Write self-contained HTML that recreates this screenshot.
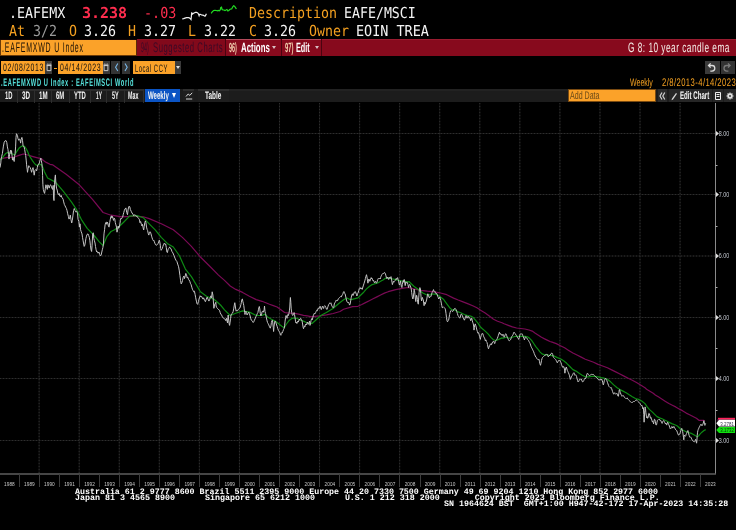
<!DOCTYPE html>
<html><head><meta charset="utf-8"><title>EAFEMXWD U Index - Bloomberg chart</title>
<style>
*{margin:0;padding:0;box-sizing:border-box}
html,body{width:736px;height:530px;overflow:hidden;background:#000}
body{position:relative;font-family:"Liberation Sans",sans-serif}
.t{position:absolute;white-space:pre;transform-origin:0 0;text-rendering:geometricPrecision}
.b{position:absolute}
.chart{position:absolute;left:0;top:0}
</style></head><body>
<div class="b" style="left:0;top:39px;width:736px;height:17.4px;background:#870a1d;border-top:1px solid #9a1c30"></div>
<div class="b" style="left:0;top:39px;width:136.6px;height:1px;background:#120404"></div>
<div class="b" style="left:0;top:40px;width:136.6px;height:16px;background:#fba229;border:1px solid #6a3a08;border-top:0;border-right-color:#5a2a06"></div>
<div class="b" style="left:137px;top:39px;width:88.3px;height:17.4px;background:#82091b;border-top:1px solid #8e1426"></div>
<div class="b" style="left:225.3px;top:39px;width:1px;height:17.4px;background:#4a0410"></div>
<div class="b" style="left:226.3px;top:39px;width:54.2px;height:17.4px;background:#870a1d;border-top:1px solid #b54a5a"></div>
<div class="b" style="left:280.5px;top:39px;width:1px;height:17.4px;background:#4a0410"></div>
<div class="b" style="left:281.5px;top:39px;width:39.5px;height:17.4px;background:#870a1d;border-top:1px solid #b54a5a"></div>
<div class="b" style="left:321px;top:39px;width:1px;height:17.4px;background:#4a0410"></div>
<div class="b" style="left:272px;top:46px;width:0;height:0;border-left:2px solid transparent;border-right:2px solid transparent;border-top:3px solid #d8c0c4"></div>
<div class="b" style="left:315px;top:46px;width:0;height:0;border-left:2px solid transparent;border-right:2px solid transparent;border-top:3px solid #d8c0c4"></div>

<!-- date row -->
<div class="b" style="left:1px;top:60.8px;width:44.2px;height:13.1px;background:#fba229"></div>
<div class="b" style="left:45.2px;top:60.8px;width:7px;height:13.1px;background:#3a3a3a"></div>
<svg class="b" style="left:45.5px;top:62px" width="7" height="10"><path d="M1.1 3.6 V8.6 H4.9 V3.6 Z" fill="#2a2a2a" stroke="#c8c8c8" stroke-width="1"/><path d="M0.6 3.2 H5.4" stroke="#c8c8c8" stroke-width="1.6"/><path d="M1.8 1.2 V3 M4.2 1.2 V3" stroke="#9a9a9a" stroke-width="0.9"/></svg>
<div class="b" style="left:54px;top:68px;width:3px;height:1.2px;background:#f4a020"></div>
<div class="b" style="left:57.7px;top:60.8px;width:45.1px;height:13.1px;background:#fba229"></div>
<div class="b" style="left:102.8px;top:60.8px;width:7.1px;height:13.1px;background:#3a3a3a"></div>
<svg class="b" style="left:103.1px;top:62px" width="7" height="10"><path d="M1.1 3.6 V8.6 H4.9 V3.6 Z" fill="#2a2a2a" stroke="#c8c8c8" stroke-width="1"/><path d="M0.6 3.2 H5.4" stroke="#c8c8c8" stroke-width="1.6"/><path d="M1.8 1.2 V3 M4.2 1.2 V3" stroke="#9a9a9a" stroke-width="0.9"/></svg>
<div class="b" style="left:111.3px;top:60.8px;width:8.9px;height:13.1px;background:#333"></div>
<div class="b" style="left:121.8px;top:60.8px;width:8.4px;height:13.1px;background:#333"></div>
<div class="b" style="left:133.3px;top:60.8px;width:41.6px;height:13.1px;background:#fba229"></div>
<div class="b" style="left:174.9px;top:60.8px;width:6.5px;height:13.1px;background:#3a3a3a"></div>
<div class="b" style="left:176.3px;top:66px;width:0;height:0;border-left:2px solid transparent;border-right:2px solid transparent;border-top:3px solid #e0e0e0"></div>
<svg class="b" style="left:111px;top:60px" width="20" height="15"><path d="M6.8 3.5 L4.6 7.3 L6.8 11" fill="none" stroke="#7ab8e8" stroke-width="1.1"/><path d="M14 3.5 L16.2 7.3 L14 11" fill="none" stroke="#7ab8e8" stroke-width="1.1"/></svg>
<div class="b" style="left:705.3px;top:61px;width:14.7px;height:13px;background:#3a3a3a"></div>
<div class="b" style="left:720.9px;top:61px;width:13.7px;height:13px;background:#333"></div>
<svg class="b" style="left:705px;top:61px" width="31" height="13"><path d="M5.6 2.4 L3.5 4.5 L5.6 6.6 M3.5 4.5 H7 A2.8 2.8 0 0 1 7 10.1 H5.3" fill="none" stroke="#dcdcdc" stroke-width="1.3"/><path d="M23 2.4 L25.1 4.5 L23 6.6 M25.1 4.5 H21.8 A2.8 2.8 0 0 0 21.8 10.1 H23.4" fill="none" stroke="#7a7a7a" stroke-width="1.3"/></svg>

<!-- tab bar -->
<div class="b" style="left:0;top:88.8px;width:736px;height:13.7px;background:#1c1c1c"></div>
<div class="b" style="left:0;top:88.8px;width:144px;height:2.6px;background:#2c2c2c"></div>
<div class="b" style="left:229px;top:88.8px;width:339px;height:2.6px;background:#222"></div>
<div class="b" style="left:17px;top:89px;width:1px;height:13.5px;background:#2e2e2e"></div><div class="b" style="left:34px;top:89px;width:1px;height:13.5px;background:#2e2e2e"></div><div class="b" style="left:51px;top:89px;width:1px;height:13.5px;background:#2e2e2e"></div><div class="b" style="left:69px;top:89px;width:1px;height:13.5px;background:#2e2e2e"></div><div class="b" style="left:90px;top:89px;width:1px;height:13.5px;background:#2e2e2e"></div><div class="b" style="left:106px;top:89px;width:1px;height:13.5px;background:#2e2e2e"></div><div class="b" style="left:124px;top:89px;width:1px;height:13.5px;background:#2e2e2e"></div><div class="b" style="left:143px;top:89px;width:1px;height:13.5px;background:#2e2e2e"></div>
<div class="b" style="left:144.8px;top:88.8px;width:35.2px;height:13.7px;background:#0b54c4"></div>
<div class="b" style="left:172.2px;top:92.8px;width:0;height:0;border-left:2.6px solid transparent;border-right:2.6px solid transparent;border-top:5.4px solid #fff"></div>
<div class="b" style="left:183px;top:88.8px;width:11px;height:13.7px;background:#1e1e1e;border-top:2.6px solid #2e2e2e"></div>
<svg class="b" style="left:183px;top:89px" width="13" height="14"><path d="M3 7.5 L5.2 5 L6.8 6.4 L9.2 3.8" fill="none" stroke="#ddd" stroke-width="1"/><path d="M3 10 H9.2" stroke="#bbb" stroke-width="1.2"/></svg>
<div class="b" style="left:197.7px;top:88.8px;width:31.3px;height:13.7px;background:#1e1e1e;border-top:2.6px solid #2e2e2e"></div>
<div class="b" style="left:568px;top:88.8px;width:88.1px;height:12.9px;background:#fba229;border:1px solid #7a4a10"></div>
<div class="b" style="left:657.8px;top:88.8px;width:9.2px;height:13.7px;background:#2a2a2a"></div>
<div class="b" style="left:669px;top:88.8px;width:43px;height:13.7px;background:#262626"></div>
<div class="b" style="left:713px;top:88.8px;width:10px;height:13.7px;background:#262626"></div>
<div class="b" style="left:724px;top:88.8px;width:12px;height:13.7px;background:#262626"></div>
<svg class="b" style="left:657px;top:89px" width="79" height="14"><path d="M5 3.5 L3 7 L5 10.5 M7.8 3.5 L5.8 7 L7.8 10.5" fill="none" stroke="#d0d0d0" stroke-width="1.2"/><path d="M14.5 11.2 L15 9.6 L19 4 L20 4.8 L16 10.4 Z" fill="#d8d8d8"/><path d="M58.5 3.5 H63.5 V10.5 H58.5Z M59.5 5.5 H62.5 M59.5 7.5 H62.5" fill="none" stroke="#eee" stroke-width="1"/><g transform="translate(73 7)"><circle r="2.4" fill="#e0e0e0"/><rect x="-0.7" y="-3.4" width="1.4" height="1.6" fill="#e0e0e0" transform="rotate(0)"/><rect x="-0.7" y="-3.4" width="1.4" height="1.6" fill="#e0e0e0" transform="rotate(45)"/><rect x="-0.7" y="-3.4" width="1.4" height="1.6" fill="#e0e0e0" transform="rotate(90)"/><rect x="-0.7" y="-3.4" width="1.4" height="1.6" fill="#e0e0e0" transform="rotate(135)"/><rect x="-0.7" y="-3.4" width="1.4" height="1.6" fill="#e0e0e0" transform="rotate(180)"/><rect x="-0.7" y="-3.4" width="1.4" height="1.6" fill="#e0e0e0" transform="rotate(225)"/><rect x="-0.7" y="-3.4" width="1.4" height="1.6" fill="#e0e0e0" transform="rotate(270)"/><rect x="-0.7" y="-3.4" width="1.4" height="1.6" fill="#e0e0e0" transform="rotate(315)"/><circle r="0.9" fill="#262626"/></g></svg>
<span class="t" style="left:8.83px;top:6.00px;font:15px/15px 'DejaVu Sans Mono', monospace;color:#f4f4f4;transform:scale(0.8889,1.0000);">.EAFEMX</span>
<span class="t" style="left:81.90px;top:6.00px;font:15px/15px 'DejaVu Sans Mono', monospace;font-weight:bold;color:#ff2d4e;">3.238</span>
<span class="t" style="left:144.21px;top:6.00px;font:15px/15px 'DejaVu Sans Mono', monospace;color:#ff2d4e;transform:scale(0.8945,1.0000);">-.03</span>
<span class="t" style="left:248.61px;top:6.00px;font:15px/15px 'DejaVu Sans Mono', monospace;color:#f4a020;transform:scale(0.8860,1.0000);">Description</span>
<span class="t" style="left:344.12px;top:6.00px;font:15px/15px 'DejaVu Sans Mono', monospace;color:#f4f4f4;transform:scale(0.8833,1.0000);">EAFE/MSCI</span>
<span class="t" style="left:9.00px;top:24.00px;font:15px/15px 'DejaVu Sans Mono', monospace;color:#f4a020;transform:scale(0.8860,1.0000);">At</span>
<span class="t" style="left:33.11px;top:24.00px;font:15px/15px 'DejaVu Sans Mono', monospace;color:#9a9a9a;transform:scale(0.8860,1.0000);">3/2</span>
<span class="t" style="left:69.00px;top:24.00px;font:15px/15px 'DejaVu Sans Mono', monospace;color:#f4a020;transform:scale(0.8860,1.0000);">O</span>
<span class="t" style="left:84.11px;top:24.00px;font:15px/15px 'DejaVu Sans Mono', monospace;color:#f4f4f4;transform:scale(0.8860,1.0000);">3.26</span>
<span class="t" style="left:127.86px;top:24.00px;font:15px/15px 'DejaVu Sans Mono', monospace;color:#f4a020;transform:scale(0.8860,1.0000);">H</span>
<span class="t" style="left:144.11px;top:24.00px;font:15px/15px 'DejaVu Sans Mono', monospace;color:#f4f4f4;transform:scale(0.8860,1.0000);">3.27</span>
<span class="t" style="left:187.61px;top:24.00px;font:15px/15px 'DejaVu Sans Mono', monospace;color:#f4a020;transform:scale(0.8860,1.0000);">L</span>
<span class="t" style="left:204.11px;top:24.00px;font:15px/15px 'DejaVu Sans Mono', monospace;color:#f4f4f4;transform:scale(0.8860,1.0000);">3.22</span>
<span class="t" style="left:248.61px;top:24.00px;font:15px/15px 'DejaVu Sans Mono', monospace;color:#f4a020;transform:scale(0.8860,1.0000);">C</span>
<span class="t" style="left:264.11px;top:24.00px;font:15px/15px 'DejaVu Sans Mono', monospace;color:#f4f4f4;transform:scale(0.8860,1.0000);">3.26</span>
<span class="t" style="left:308.50px;top:24.00px;font:15px/15px 'DejaVu Sans Mono', monospace;color:#f4a020;transform:scale(0.8860,1.0000);">Owner</span>
<span class="t" style="left:355.60px;top:24.00px;font:15px/15px 'DejaVu Sans Mono', monospace;color:#f4f4f4;transform:scale(0.8972,1.0000);">EOIN TREA</span>
<span class="t" style="left:2.00px;top:40.25px;font:14px/14px 'Liberation Sans', sans-serif;letter-spacing:1.6px;color:#1a1005;transform:scale(0.4984,1.0000);">.EAFEMXWD U Index</span>
<span class="t" style="left:140.90px;top:39.80px;font:14px/14px 'Liberation Sans', sans-serif;color:#3a0a26;transform:scale(0.3832,1.0000);">94)</span>
<span class="t" style="left:152.70px;top:39.80px;font:14px/14px 'Liberation Sans', sans-serif;letter-spacing:1.0px;color:#3a0a26;transform:scale(0.5485,1.0000);">Suggested Charts</span>
<span class="t" style="left:229.00px;top:40.70px;font:13.3px/13.3px 'Liberation Sans', sans-serif;font-weight:bold;color:#f2cfae;transform:scale(0.4098,1.0000);">96)</span>
<span class="t" style="left:240.80px;top:40.70px;font:13.3px/13.3px 'Liberation Sans', sans-serif;font-weight:bold;color:#ffffff;transform:scale(0.5913,1.0000);">Actions</span>
<span class="t" style="left:284.50px;top:40.70px;font:13.3px/13.3px 'Liberation Sans', sans-serif;font-weight:bold;color:#f2cfae;transform:scale(0.4470,1.0000);">97)</span>
<span class="t" style="left:295.80px;top:40.70px;font:13.3px/13.3px 'Liberation Sans', sans-serif;font-weight:bold;color:#ffffff;transform:scale(0.5489,1.0000);">Edit</span>
<span class="t" style="left:627.70px;top:41.00px;font:13.5px/13.5px 'Liberation Sans', sans-serif;letter-spacing:0.8px;color:#f4ece6;transform:scale(0.6129,1.0000);">G 8: 10 year candle ema</span>
<span class="t" style="left:2.85px;top:63.40px;font:10.75px/10.75px 'Liberation Sans', sans-serif;letter-spacing:1.0px;color:#111;transform:scale(0.6423,1.0000);">02/08/2013</span>
<span class="t" style="left:59.50px;top:63.40px;font:10.75px/10.75px 'Liberation Sans', sans-serif;letter-spacing:1.0px;color:#111;transform:scale(0.6447,1.0000);">04/14/2023</span>
<span class="t" style="left:134.90px;top:63.50px;font:10.75px/10.75px 'Liberation Sans', sans-serif;letter-spacing:1.0px;color:#111;transform:scale(0.5438,1.0000);">Local CCY</span>
<span class="t" style="left:1.00px;top:77.80px;font:11px/11px 'Liberation Sans', sans-serif;font-weight:bold;letter-spacing:1.2px;color:#55e0da;transform:scale(0.5209,1.0000);">.EAFEMXWD U Index : EAFE/MSCI World</span>
<span class="t" style="left:630.20px;top:78.30px;font:11px/11px 'Liberation Sans', sans-serif;color:#f4a020;transform:scale(0.6380,1.0000);">Weekly</span>
<span class="t" style="left:662.20px;top:78.30px;font:11px/11px 'Liberation Sans', sans-serif;letter-spacing:0.6px;color:#f4a020;transform:scale(0.6976,1.0000);">2/8/2013-4/14/2023</span>
<span class="t" style="left:5.00px;top:91.10px;font:11px/11px 'Liberation Sans', sans-serif;font-weight:bold;color:#f4f4f4;transform:scale(0.5312,1.0000);">1D</span>
<span class="t" style="left:21.90px;top:91.10px;font:11px/11px 'Liberation Sans', sans-serif;font-weight:bold;color:#f4f4f4;transform:scale(0.5737,1.0000);">3D</span>
<span class="t" style="left:38.75px;top:91.10px;font:11px/11px 'Liberation Sans', sans-serif;font-weight:bold;color:#f4f4f4;transform:scale(0.5623,1.0000);">1M</span>
<span class="t" style="left:56.25px;top:91.10px;font:11px/11px 'Liberation Sans', sans-serif;font-weight:bold;color:#f4f4f4;transform:scale(0.5391,1.0000);">6M</span>
<span class="t" style="left:73.75px;top:91.10px;font:11px/11px 'Liberation Sans', sans-serif;font-weight:bold;color:#f4f4f4;transform:scale(0.5373,1.0000);">YTD</span>
<span class="t" style="left:95.60px;top:91.10px;font:11px/11px 'Liberation Sans', sans-serif;font-weight:bold;color:#f4f4f4;transform:scale(0.4321,1.0000);">1Y</span>
<span class="t" style="left:111.50px;top:91.10px;font:11px/11px 'Liberation Sans', sans-serif;font-weight:bold;color:#f4f4f4;transform:scale(0.4958,1.0000);">5Y</span>
<span class="t" style="left:128.30px;top:91.10px;font:11px/11px 'Liberation Sans', sans-serif;font-weight:bold;color:#f4f4f4;transform:scale(0.4847,1.0000);">Max</span>
<span class="t" style="left:147.80px;top:91.10px;font:11px/11px 'Liberation Sans', sans-serif;font-weight:bold;color:#f4f4f4;transform:scale(0.5519,1.0000);">Weekly</span>
<span class="t" style="left:205.00px;top:91.10px;font:11px/11px 'Liberation Sans', sans-serif;font-weight:bold;color:#f4f4f4;transform:scale(0.5864,1.0000);">Table</span>
<span class="t" style="left:570.20px;top:91.10px;font:11px/11px 'Liberation Sans', sans-serif;color:#6a4a18;transform:scale(0.6439,1.0000);">Add Data</span>
<span class="t" style="left:679.60px;top:91.10px;font:11px/11px 'Liberation Sans', sans-serif;font-weight:bold;color:#f4f4f4;transform:scale(0.5558,1.0000);">Edit Chart</span>
<span class="t" style="left:75.00px;top:488.00px;font:8.33px/8.33px 'Liberation Mono', monospace;font-weight:bold;color:#ffffff;transform:scale(0.9970,1.0000);">Australia 61 2 9777 8600 Brazil 5511 2395 9000 Europe 44 20 7330 7500 Germany 49 69 9204 1210 Hong Kong 852 2977 6000</span>
<span class="t" style="left:75.00px;top:493.60px;font:8.33px/8.33px 'Liberation Mono', monospace;font-weight:bold;color:#ffffff;">Japan 81 3 4565 8900      Singapore 65 6212 1000      U.S. 1 212 318 2000       Copyright 2023 Bloomberg Finance L.P.</span>
<span class="t" style="left:444.10px;top:499.50px;font:8.33px/8.33px 'Liberation Mono', monospace;font-weight:bold;color:#ffffff;transform:scale(0.9976,1.0000);">SN 1964624 BST  GMT+1:00 H947-42-172 17-Apr-2023 14:35:28</span>
<svg class="chart" width="736" height="530" viewBox="0 0 736 530">
<g stroke="#161616" stroke-width="1"><line x1="39.13" y1="103" x2="39.13" y2="473.5"/><line x1="79.19" y1="103" x2="79.19" y2="473.5"/><line x1="119.25" y1="103" x2="119.25" y2="473.5"/><line x1="159.31" y1="103" x2="159.31" y2="473.5"/><line x1="199.37" y1="103" x2="199.37" y2="473.5"/><line x1="239.43" y1="103" x2="239.43" y2="473.5"/><line x1="279.49" y1="103" x2="279.49" y2="473.5"/><line x1="319.55" y1="103" x2="319.55" y2="473.5"/><line x1="359.61" y1="103" x2="359.61" y2="473.5"/><line x1="399.67" y1="103" x2="399.67" y2="473.5"/><line x1="439.73" y1="103" x2="439.73" y2="473.5"/><line x1="479.79" y1="103" x2="479.79" y2="473.5"/><line x1="519.85" y1="103" x2="519.85" y2="473.5"/><line x1="559.91" y1="103" x2="559.91" y2="473.5"/><line x1="599.97" y1="103" x2="599.97" y2="473.5"/><line x1="640.03" y1="103" x2="640.03" y2="473.5"/><line x1="680.09" y1="103" x2="680.09" y2="473.5"/><line x1="0" y1="440.5" x2="715.0" y2="440.5"/><line x1="0" y1="378.5" x2="715.0" y2="378.5"/><line x1="0" y1="317.5" x2="715.0" y2="317.5"/><line x1="0" y1="256.0" x2="715.0" y2="256.0"/><line x1="0" y1="194.5" x2="715.0" y2="194.5"/><line x1="0" y1="133.5" x2="715.0" y2="133.5"/></g>
<g stroke="#2e2e2e" stroke-width="1" stroke-dasharray="1 2"><line x1="39.13" y1="103" x2="39.13" y2="473.5"/><line x1="79.19" y1="103" x2="79.19" y2="473.5"/><line x1="119.25" y1="103" x2="119.25" y2="473.5"/><line x1="159.31" y1="103" x2="159.31" y2="473.5"/><line x1="199.37" y1="103" x2="199.37" y2="473.5"/><line x1="239.43" y1="103" x2="239.43" y2="473.5"/><line x1="279.49" y1="103" x2="279.49" y2="473.5"/><line x1="319.55" y1="103" x2="319.55" y2="473.5"/><line x1="359.61" y1="103" x2="359.61" y2="473.5"/><line x1="399.67" y1="103" x2="399.67" y2="473.5"/><line x1="439.73" y1="103" x2="439.73" y2="473.5"/><line x1="479.79" y1="103" x2="479.79" y2="473.5"/><line x1="519.85" y1="103" x2="519.85" y2="473.5"/><line x1="559.91" y1="103" x2="559.91" y2="473.5"/><line x1="599.97" y1="103" x2="599.97" y2="473.5"/><line x1="640.03" y1="103" x2="640.03" y2="473.5"/><line x1="680.09" y1="103" x2="680.09" y2="473.5"/><line x1="0" y1="440.5" x2="715.0" y2="440.5"/><line x1="0" y1="378.5" x2="715.0" y2="378.5"/><line x1="0" y1="317.5" x2="715.0" y2="317.5"/><line x1="0" y1="256.0" x2="715.0" y2="256.0"/><line x1="0" y1="194.5" x2="715.0" y2="194.5"/><line x1="0" y1="133.5" x2="715.0" y2="133.5"/></g>
<polyline fill="none" stroke="#7a0a55" stroke-width="1.2" stroke-linejoin="round" points="0.0,159.1 3.8,158.2 7.5,157.4 11.3,157.4 15.1,156.8 18.9,155.4 22.6,154.2 25.5,154.2 28.3,155.2 32.1,156.3 35.8,157.4 38.7,158.2 41.5,158.7 43.4,160.5 46.2,162.4 50.0,164.3 52.9,164.9 66.1,174.2 79.3,184.8 92.5,199.3 103.1,212.5 111.0,215.2 122.1,216.8 134.1,216.2 143.2,216.8 149.2,218.6 161.3,223.8 173.3,229.8 182.4,237.4 191.4,246.4 200.4,257.0 209.5,266.0 218.5,275.1 224.5,280.4 230.2,286.0 235.8,289.4 242.6,292.4 249.4,296.2 256.2,299.6 262.0,301.3 265.8,302.7 269.5,304.2 273.3,305.6 277.1,307.0 280.9,309.8 284.6,312.5 288.4,313.1 292.2,313.1 296.0,313.6 299.7,314.3 303.5,315.3 307.3,315.9 312.0,316.9 312.8,316.6 319.6,315.9 326.4,314.8 333.2,313.5 340.0,311.5 343.6,309.3 352.6,306.6 358.0,306.3 361.8,304.5 365.5,302.6 369.3,300.7 373.1,298.8 376.9,296.9 380.6,295.0 384.4,293.1 388.2,291.7 392.0,290.6 395.7,289.6 399.5,288.9 403.3,288.2 408.0,287.5 413.8,288.9 420.6,290.3 427.4,291.2 434.2,291.9 440.5,293.0 446.8,294.7 453.6,298.1 458.2,300.0 462.4,301.6 467.6,303.6 472.7,305.7 476.9,307.8 481.0,310.4 485.2,313.0 489.3,316.1 493.5,319.2 497.6,321.3 502.0,322.8 504.1,323.8 508.3,325.4 512.4,326.9 516.6,328.0 520.7,328.5 524.9,329.0 529.0,330.0 532.2,331.1 535.3,333.2 538.4,335.2 541.5,337.3 544.6,338.9 547.7,340.4 550.0,341.5 552.1,342.1 556.3,343.6 560.4,345.7 564.6,347.8 568.7,350.4 572.9,353.0 577.0,355.0 581.2,357.1 585.3,359.2 589.5,360.7 593.6,362.3 598.0,364.4 599.1,364.7 603.3,366.2 607.4,367.8 611.6,369.9 615.7,371.9 619.9,374.0 624.0,376.1 628.2,378.2 632.3,380.2 636.5,382.6 640.6,385.1 645.0,387.8 646.6,389.2 653.2,393.2 655.3,395.0 658.7,397.1 662.1,399.2 665.5,401.4 668.9,403.5 672.3,405.2 675.7,406.9 680.0,409.4 682.8,410.9 686.2,413.1 689.6,414.8 693.0,416.5 696.4,418.2 698.9,420.3 701.5,420.4 703.6,420.3 704.9,420.7"/>
<polyline fill="none" stroke="#0e8a14" stroke-width="1.2" stroke-linejoin="round" points="0.0,160.1 1.9,158.7 3.8,155.8 5.7,153.5 7.5,152.5 9.4,153.0 11.3,153.5 13.2,154.2 14.6,154.9 15.6,153.5 17.0,151.1 18.9,148.3 20.8,146.7 22.6,145.9 24.5,146.4 25.9,148.3 27.4,151.1 28.8,154.4 30.2,157.2 32.1,160.1 34.0,162.9 35.8,164.8 37.7,165.3 39.6,164.3 41.5,164.8 42.9,167.6 44.3,171.4 46.2,175.2 47.6,178.0 55.5,182.1 63.4,191.4 71.4,201.9 76.7,209.9 81.9,220.4 87.2,228.4 93.8,235.0 99.1,241.6 103.1,245.6 107.0,236.3 111.0,231.5 114.5,229.8 119.0,226.8 123.6,222.3 129.6,216.2 137.1,215.6 143.2,217.7 149.2,223.8 155.2,229.8 161.3,237.4 167.3,243.4 173.3,247.0 179.3,255.5 185.4,269.1 191.4,276.6 200.4,291.7 206.5,296.2 214.0,299.2 220.5,305.0 224.5,309.8 230.2,315.5 235.8,313.2 242.6,310.9 249.4,312.1 256.2,315.5 262.0,315.5 264.8,314.1 267.7,316.9 271.4,319.2 275.2,321.1 279.0,324.0 281.8,326.3 284.2,327.7 286.5,324.0 289.4,320.2 292.2,318.3 294.5,317.8 297.8,318.8 300.7,320.2 303.5,321.1 306.3,322.5 309.2,323.5 312.0,323.5 315.1,320.7 320.8,315.5 326.4,312.5 333.0,308.5 339.1,303.2 343.6,299.8 347.0,298.0 350.4,299.8 354.9,298.7 358.0,297.8 360.8,295.0 363.7,292.2 366.5,288.9 369.3,286.5 372.2,284.6 375.0,283.7 377.8,282.9 380.6,281.3 383.0,279.9 385.4,278.2 387.2,278.0 390.1,278.5 392.9,279.0 395.7,279.7 398.6,280.4 401.4,280.9 404.2,281.3 408.0,281.8 409.2,281.7 413.8,286.2 418.3,289.6 422.8,293.0 427.4,295.3 431.9,294.2 436.4,294.2 440.5,297.0 443.4,299.2 446.8,303.8 450.2,308.3 452.0,309.9 455.1,309.9 458.2,311.9 461.3,313.0 464.4,314.5 467.6,315.6 470.7,316.1 473.3,317.6 475.9,320.7 478.5,323.9 480.0,326.5 482.1,328.5 485.2,331.1 488.3,334.2 490.9,337.3 493.5,339.9 496.1,340.5 498.7,339.4 502.0,337.9 503.1,338.3 506.2,337.3 509.3,338.3 512.4,337.3 515.6,336.3 518.7,336.3 521.8,336.3 524.9,336.3 527.5,336.8 529.6,338.3 531.6,340.4 533.7,343.5 535.8,346.6 537.9,349.2 539.9,351.8 542.0,353.9 544.6,354.9 547.2,354.9 550.0,355.5 551.1,355.4 554.2,356.1 557.3,357.6 560.4,358.7 563.6,360.7 566.7,363.3 569.8,366.5 572.9,369.6 576.0,371.1 579.1,373.2 582.2,375.3 585.3,376.8 588.5,376.8 591.6,376.3 594.7,376.3 598.0,376.8 601.2,377.6 604.3,378.2 607.4,379.2 610.6,381.8 613.7,384.9 616.8,387.5 619.9,389.6 623.0,391.1 626.1,392.7 629.2,394.8 632.3,396.8 635.5,398.6 638.6,399.4 641.7,401.0 645.0,403.6 647.2,406.9 649.3,409.4 651.9,411.6 654.4,414.1 657.0,416.6 659.5,417.9 662.1,418.8 664.6,420.0 667.2,421.3 669.7,422.6 672.3,423.9 674.8,424.7 677.4,426.0 680.0,428.5 681.1,429.2 683.6,430.5 686.2,431.7 688.7,432.6 691.3,433.4 693.8,434.7 696.0,436.0 697.2,436.8 698.5,436.0 700.2,433.9 701.9,432.2 704.0,430.5 705.7,429.6"/>
<polyline fill="none" stroke="#c4c4c4" stroke-width="1" stroke-linejoin="round" points="0.0,167.6 0.8,162.9 1.1,159.1 1.7,156.3 2.4,153.5 3.3,146.9 4.2,142.2 5.2,140.7 6.1,140.7 6.8,142.6 7.4,146.9 8.0,149.7 8.5,154.4 9.0,159.1 9.4,156.3 9.9,152.5 10.6,150.2 11.1,153.5 11.5,150.6 12.1,156.3 12.5,160.1 13.0,157.2 13.7,160.1 14.2,161.5 14.6,156.3 15.1,153.5 15.6,146.9 16.0,137.4 16.5,133.7 17.0,134.6 17.5,135.5 17.9,138.4 18.7,140.3 19.3,138.8 20.0,139.8 20.6,143.1 21.2,139.3 21.9,137.4 22.5,140.3 23.1,145.9 24.1,146.9 24.7,149.7 25.3,153.5 25.7,155.4 26.2,160.1 26.6,164.8 27.2,169.5 27.5,172.3 28.1,168.6 28.8,165.7 29.4,166.7 30.2,167.6 30.9,169.5 31.6,172.3 32.3,169.5 33.0,167.6 33.5,170.5 34.2,175.2 34.9,170.5 35.8,169.5 36.6,170.9 37.3,167.6 37.9,164.8 38.7,164.3 39.4,162.9 40.1,160.1 40.8,158.2 41.3,160.5 41.9,163.8 42.3,168.6 42.6,175.6 42.9,184.8 43.3,189.4 44.0,192.0 44.6,193.4 45.3,188.7 45.9,184.8 46.6,186.8 47.3,189.4 47.9,184.8 48.6,186.1 49.2,188.1 49.9,185.4 50.6,184.8 51.2,186.1 51.9,188.1 52.5,189.4 53.2,185.4 53.6,198.0 54.0,200.6 54.5,184.8 54.9,178.2 55.4,174.9 55.8,182.2 56.5,188.1 57.2,190.1 57.8,193.4 58.5,194.7 59.1,193.4 59.8,196.0 60.4,196.7 61.1,195.3 61.8,197.3 62.4,198.0 63.1,199.3 63.7,201.9 64.4,204.6 65.1,205.9 65.7,207.2 66.4,208.5 67.0,210.5 67.7,213.8 68.4,216.5 69.0,219.1 69.7,217.8 70.3,215.1 71.0,219.7 71.7,223.0 72.3,220.4 73.0,215.1 73.6,210.5 74.3,208.5 75.0,210.5 75.6,211.8 76.7,211.2 77.6,213.8 78.0,219.2 78.9,221.5 79.4,227.1 80.0,223.8 80.5,229.4 81.2,231.7 82.0,233.9 82.5,237.3 83.1,240.7 83.7,244.1 84.2,246.4 84.8,245.2 85.4,241.9 85.9,238.5 86.5,236.2 87.0,234.5 88.0,233.9 88.7,235.6 89.3,237.3 89.9,240.7 90.4,245.2 91.0,249.8 91.6,251.5 92.1,245.2 92.7,233.9 93.3,232.8 93.8,238.5 94.4,240.7 95.0,243.0 95.5,246.4 96.1,249.8 96.7,252.0 97.2,251.5 98.1,253.2 98.9,252.0 99.7,254.3 100.4,256.0 101.2,254.9 101.8,252.0 102.3,249.8 102.9,247.5 103.5,243.0 104.0,233.9 104.6,229.4 105.1,224.9 105.7,222.6 106.3,222.1 106.8,224.3 107.4,222.1 108.0,223.8 108.5,226.6 109.1,227.1 109.7,222.6 110.2,219.8 110.8,217.0 111.4,215.8 111.9,218.1 112.5,216.4 113.1,218.7 113.6,220.4 114.2,218.1 114.8,219.2 115.3,222.6 115.9,224.9 116.5,227.1 117.0,232.2 117.6,229.4 118.2,226.0 118.7,228.3 119.3,227.1 119.9,223.8 120.4,220.4 121.0,218.1 121.6,218.7 122.1,217.5 122.7,217.0 123.2,214.7 123.8,212.4 124.4,210.2 125.0,209.0 125.9,207.9 126.7,212.4 127.5,214.7 128.2,209.0 129.0,206.2 129.8,206.8 130.4,209.6 131.2,211.3 132.0,213.0 132.9,214.1 133.8,215.8 134.6,214.7 135.4,215.3 136.3,215.8 137.2,217.0 138.0,217.5 138.8,218.7 139.5,219.8 139.9,222.6 140.6,221.5 141.4,224.3 142.0,226.0 142.5,224.3 143.1,227.7 143.7,230.0 144.2,226.6 144.8,222.6 145.4,220.9 145.9,222.6 146.5,227.1 147.1,229.4 147.6,230.5 148.2,233.4 148.8,235.1 149.3,232.8 149.9,231.7 150.5,232.2 151.0,233.9 151.6,236.2 152.1,237.9 152.7,239.6 153.3,240.7 153.8,240.2 154.4,241.9 155.0,243.6 155.5,244.7 156.4,245.2 157.2,244.7 158.0,243.6 158.7,241.9 159.3,240.2 159.8,241.9 160.3,245.2 160.7,248.6 161.2,250.3 161.8,249.2 162.3,248.6 162.9,246.4 163.5,244.7 164.0,243.6 164.6,243.0 165.2,244.7 165.7,244.1 166.3,247.5 166.9,252.0 167.4,252.6 168.0,249.8 168.6,248.6 169.1,248.1 169.7,246.9 170.0,247.6 171.1,249.0 172.0,251.6 172.9,252.9 174.0,255.6 175.0,258.2 175.9,260.2 176.9,261.5 177.7,264.1 178.6,266.8 179.2,270.1 179.9,275.3 180.6,280.6 181.2,283.9 181.9,282.6 182.5,280.6 183.2,277.3 183.9,276.0 184.5,278.6 185.2,276.0 185.8,273.4 186.5,274.7 187.2,278.0 187.8,277.3 188.5,279.3 189.1,280.0 189.8,281.3 190.4,283.3 191.1,284.6 191.8,287.2 192.4,289.2 193.1,290.5 193.7,291.8 194.4,291.2 195.1,294.5 195.7,297.8 196.4,301.1 197.0,303.7 197.7,304.4 198.4,301.7 199.0,299.1 199.7,297.1 200.3,295.8 201.0,297.1 201.7,296.5 202.3,297.8 203.0,299.1 203.6,297.8 204.6,300.4 205.4,301.7 206.3,299.1 207.2,297.1 208.0,299.1 208.9,301.1 209.6,299.7 210.2,297.8 210.9,295.8 211.6,297.8 212.2,291.8 212.9,295.1 213.5,303.0 213.9,308.3 214.6,304.4 215.0,304.2 215.8,302.3 216.1,306.0 216.7,307.5 217.4,308.4 218.0,308.9 218.8,309.8 219.5,310.3 220.2,312.6 220.8,314.1 221.6,315.0 222.4,316.9 223.0,317.8 223.7,318.3 224.4,318.8 225.2,319.2 225.8,320.7 226.5,318.3 227.1,321.1 227.5,323.0 227.9,317.4 228.2,315.0 228.7,320.2 229.2,324.0 229.6,325.4 230.1,322.1 230.6,318.3 231.0,315.0 231.8,313.6 232.5,313.1 233.1,311.7 233.7,308.9 234.3,305.1 234.8,302.7 235.3,306.0 235.8,309.8 236.2,311.2 236.7,310.3 237.5,310.8 238.1,309.8 238.8,308.9 239.3,308.4 240.0,307.9 240.5,306.0 240.9,304.6 241.4,302.3 241.9,299.4 242.4,299.0 242.8,301.3 243.3,303.2 243.8,305.6 244.2,308.9 244.7,312.6 245.0,314.5 245.4,312.2 245.9,311.2 246.6,312.6 247.1,315.0 247.5,314.1 248.2,313.1 248.8,312.2 249.4,313.6 250.1,315.9 250.7,318.3 251.3,320.2 252.0,320.7 252.5,321.1 253.2,322.5 253.9,321.6 254.4,320.2 255.1,318.8 255.8,316.9 256.5,315.5 257.3,313.6 257.9,312.6 258.4,309.8 258.9,307.5 259.3,306.5 259.8,308.9 260.3,313.6 260.8,315.9 261.2,315.5 261.7,314.1 262.0,311.7 262.8,311.2 263.4,312.2 264.1,309.8 264.5,306.0 265.0,311.7 265.6,313.6 266.2,316.9 266.9,320.2 267.5,322.5 268.1,323.5 268.8,324.9 269.5,326.8 270.3,328.2 271.0,325.8 271.4,322.5 271.9,320.7 272.4,320.2 272.8,323.0 273.3,327.7 273.6,331.5 274.0,326.8 274.5,323.0 275.0,321.1 275.7,322.1 276.3,324.0 277.1,326.3 277.8,328.7 278.5,330.6 279.2,331.5 279.7,332.5 280.4,334.3 280.9,335.3 281.3,333.4 281.8,332.5 282.3,332.9 282.8,331.5 283.5,329.6 284.2,328.2 284.6,325.8 285.1,321.1 285.6,317.4 286.1,315.5 286.5,317.4 287.0,318.3 287.5,316.4 287.9,314.5 288.4,315.5 288.9,313.6 289.4,310.8 289.8,307.0 290.1,301.3 290.4,297.5 290.8,302.3 291.2,308.9 291.7,312.6 292.2,314.5 292.7,315.5 293.1,315.0 293.6,313.6 294.1,312.6 294.5,314.5 295.0,317.4 295.5,321.1 296.0,323.0 296.4,322.1 296.9,323.5 297.4,322.5 297.8,321.1 298.3,322.1 298.8,320.2 299.3,319.2 299.7,320.2 300.2,318.8 300.7,318.3 301.2,319.2 301.6,319.7 302.1,321.1 302.6,324.0 303.0,326.8 303.5,328.7 304.0,327.3 304.5,325.8 304.9,326.8 305.4,325.4 305.9,324.0 306.3,324.9 306.8,323.5 307.3,322.1 307.8,323.0 308.2,324.4 308.7,323.5 309.2,322.1 309.6,321.1 310.0,325.4 310.6,323.2 311.1,320.3 311.7,318.6 312.3,319.8 312.8,317.5 313.4,315.2 314.0,314.1 314.5,313.0 315.1,313.6 315.7,312.4 316.2,311.3 316.8,310.2 317.4,310.7 317.9,309.0 318.5,307.9 319.0,308.5 319.6,306.8 320.2,306.2 320.7,307.9 321.3,309.6 321.9,307.9 322.4,306.2 323.0,307.3 323.6,308.5 324.1,306.2 324.7,305.6 325.3,306.2 325.8,307.3 326.4,309.0 327.0,309.6 327.5,307.9 328.1,306.2 328.7,304.5 329.2,303.9 329.8,302.8 330.4,303.4 330.9,302.8 331.5,305.1 332.1,306.2 332.6,307.3 333.2,307.9 333.8,307.3 334.3,303.9 334.9,302.8 335.5,301.7 336.0,300.5 336.6,301.1 337.1,300.0 337.7,300.5 338.3,298.8 338.8,298.3 339.4,297.7 340.0,297.1 340.5,296.6 341.1,297.1 341.7,296.0 342.2,294.9 342.8,294.3 343.4,292.1 343.9,291.5 344.5,293.2 345.1,293.8 345.6,296.0 346.2,298.8 346.8,301.1 347.3,302.2 347.9,302.8 348.5,302.2 349.0,303.4 349.6,305.1 350.2,303.9 350.7,300.5 351.3,297.1 351.9,294.9 352.4,293.8 353.0,295.5 353.6,293.8 354.1,292.6 354.7,293.2 355.2,291.5 355.8,292.6 356.4,294.3 356.9,296.0 357.5,293.8 358.0,293.1 358.8,290.3 359.4,288.4 360.1,287.5 360.8,288.9 361.6,287.9 362.2,289.4 362.9,287.0 363.5,285.1 364.1,283.2 364.8,280.9 365.4,278.5 366.0,276.2 366.5,274.7 367.0,277.1 367.4,279.9 367.9,283.2 368.4,280.9 368.8,279.0 369.3,279.5 369.8,281.3 370.3,279.9 370.7,278.5 371.2,277.6 371.7,279.0 372.2,278.5 372.6,279.9 373.1,280.9 373.6,280.4 374.0,281.8 374.5,282.8 375.0,281.8 375.5,281.3 375.9,282.3 376.4,283.2 376.9,282.3 377.3,280.9 377.8,279.5 378.3,278.5 378.8,279.0 379.2,278.5 379.7,278.0 380.2,279.0 380.6,277.6 381.1,276.2 381.6,275.2 382.1,274.3 382.5,273.8 383.0,273.3 383.5,273.8 383.9,273.1 384.4,272.4 384.9,272.8 385.4,273.8 385.8,275.2 386.3,277.1 386.8,278.5 387.2,278.0 387.7,277.1 388.2,278.5 388.7,279.5 389.1,277.6 389.6,277.1 390.1,278.5 390.5,277.6 391.0,276.6 391.5,279.0 392.0,282.3 392.4,284.6 392.9,282.8 393.4,281.3 393.8,282.3 394.3,281.3 394.8,280.9 395.3,280.4 395.7,279.5 396.2,278.5 396.7,279.5 397.2,278.0 397.6,277.6 398.1,279.5 398.6,280.9 399.0,283.7 399.5,285.1 400.0,283.2 400.5,280.9 400.9,283.7 401.4,286.5 401.9,287.5 402.3,284.6 402.8,281.8 403.3,280.4 403.8,282.3 404.2,279.5 404.7,281.8 405.2,285.6 405.8,281.9 406.6,282.9 407.3,282.4 407.9,284.4 408.6,287.6 409.1,285.5 409.7,284.4 410.2,285.5 410.7,287.0 411.2,288.6 411.7,292.7 412.3,296.9 412.8,299.0 413.3,297.9 413.8,292.7 414.1,289.1 414.5,290.7 415.0,294.8 415.4,299.0 415.8,301.6 416.2,297.9 416.6,295.3 417.0,296.9 417.4,299.5 417.9,303.1 418.3,304.2 418.7,297.9 419.1,292.7 419.5,289.1 419.9,287.6 420.4,288.6 420.8,293.8 421.2,299.0 421.6,301.0 422.0,297.9 422.4,297.4 422.8,299.0 423.3,300.0 423.7,303.1 424.1,305.7 424.5,303.1 424.9,302.1 425.3,304.2 425.7,302.6 426.3,301.0 426.8,299.0 427.3,295.9 427.8,293.8 428.3,295.3 428.9,296.9 429.4,297.9 429.9,296.9 430.4,295.9 430.9,296.4 431.5,294.8 432.0,292.7 432.5,291.7 433.0,290.7 433.5,289.6 434.0,291.2 434.6,292.2 435.1,291.7 435.6,292.7 436.1,293.8 436.6,293.3 437.2,294.8 437.7,296.4 438.2,297.4 438.7,299.0 439.2,297.9 439.8,296.9 440.3,298.5 440.8,300.5 441.3,303.1 441.8,305.7 442.3,307.8 442.9,307.3 443.4,306.8 443.9,307.3 444.4,307.8 444.9,308.3 445.5,309.9 446.0,313.5 446.5,317.6 447.0,320.8 447.5,321.8 448.0,320.8 448.6,320.2 449.1,317.6 449.6,314.5 450.1,312.5 450.6,310.9 451.2,310.4 451.7,310.9 452.2,311.4 452.8,311.4 453.6,309.9 454.3,308.8 455.1,308.3 455.9,309.3 456.7,311.4 457.4,313.5 458.0,315.6 458.7,316.6 459.3,317.6 459.8,318.2 460.3,317.1 460.8,315.0 461.3,314.0 461.9,314.5 462.4,315.6 462.9,317.1 463.4,318.2 463.9,319.2 464.4,320.2 465.0,318.7 465.5,316.6 466.0,315.6 466.5,317.1 467.0,318.2 467.6,317.1 468.1,316.1 468.6,316.6 469.1,318.2 469.6,317.6 470.2,318.7 470.7,320.7 471.2,319.7 471.7,318.2 472.2,320.2 472.7,322.3 473.3,323.9 473.8,327.0 474.0,330.1 474.3,327.5 474.8,324.9 475.3,323.9 475.9,325.9 476.4,328.0 476.9,330.1 477.4,331.6 477.9,333.2 478.5,332.7 479.0,334.2 479.5,336.3 480.0,337.9 480.3,339.4 480.7,337.3 481.3,335.3 481.8,334.2 482.3,333.2 482.8,333.7 483.3,335.3 483.8,336.8 484.4,337.9 484.9,338.9 485.4,341.0 485.9,339.9 486.4,341.5 487.0,342.5 487.5,344.6 488.0,347.2 488.5,348.8 489.0,347.2 489.6,345.6 490.1,344.6 490.6,345.1 491.1,343.6 491.6,344.6 492.1,343.0 492.7,342.0 493.2,341.5 493.7,341.0 494.2,342.5 494.7,343.6 495.3,341.5 495.8,340.5 496.3,339.9 496.8,339.4 497.3,338.4 497.9,336.8 498.4,335.3 498.9,333.7 499.4,332.2 500.0,334.2 500.8,333.7 501.6,335.2 502.3,335.7 502.9,334.2 503.6,335.2 504.1,337.3 504.7,336.3 505.2,334.7 505.7,333.7 506.2,334.2 506.7,335.7 507.3,337.3 507.8,338.3 508.3,339.4 508.8,340.4 509.3,340.9 509.9,340.4 510.4,339.9 510.9,338.9 511.4,337.3 511.9,336.3 512.4,335.7 513.0,334.7 513.5,333.2 514.0,332.1 514.5,332.6 515.0,333.7 515.6,334.2 516.1,335.2 516.6,335.7 517.1,336.8 517.6,337.8 518.2,338.3 518.7,339.4 519.2,337.8 519.7,335.7 520.2,334.2 520.7,333.7 521.3,334.2 521.8,333.7 522.3,334.2 522.8,335.7 523.3,336.8 523.9,338.3 524.4,339.9 524.9,338.3 525.4,336.8 525.9,337.3 526.5,337.8 527.0,338.3 527.5,339.4 528.0,339.9 528.5,340.4 529.0,341.5 529.6,342.5 530.1,343.5 530.6,345.1 531.1,346.6 531.6,347.7 532.2,348.7 532.7,349.8 533.2,350.8 533.7,351.8 534.2,353.4 534.8,354.9 535.3,356.0 535.8,357.0 536.3,357.5 536.8,358.6 537.3,359.1 537.9,359.6 538.4,359.6 538.9,359.1 539.4,361.2 539.9,363.8 540.5,365.3 541.0,363.2 541.5,360.6 542.0,358.6 542.5,357.5 543.1,357.0 543.6,356.5 544.1,356.0 544.6,355.5 545.1,354.9 545.6,354.9 546.2,354.4 546.7,354.9 547.2,354.4 547.7,355.5 548.0,356.6 549.0,356.1 550.1,355.0 551.1,353.5 551.9,353.0 552.7,354.5 553.2,356.6 553.7,357.6 554.2,358.2 554.7,358.7 555.3,359.2 555.8,359.7 556.3,360.7 556.8,361.8 557.3,362.8 557.9,361.8 558.4,360.7 558.9,360.2 559.4,360.7 559.9,360.2 560.4,361.3 561.0,362.8 561.5,364.4 562.0,365.9 562.5,367.0 563.0,367.5 563.6,366.5 564.1,367.5 564.6,370.1 564.9,373.2 565.3,370.1 565.8,368.0 566.4,367.0 566.9,369.0 567.4,370.6 567.9,371.6 568.4,372.7 569.0,374.2 569.5,375.8 570.0,377.9 570.3,379.4 570.8,378.4 571.3,376.8 571.9,375.8 572.4,375.3 572.9,374.2 573.4,373.2 573.9,372.7 574.5,373.7 575.0,375.3 575.5,374.8 576.0,375.3 576.5,376.3 577.0,378.4 577.6,380.5 578.1,382.0 578.6,381.5 579.1,380.5 579.6,379.4 580.2,378.9 580.7,379.4 581.2,378.9 581.7,379.9 582.2,381.5 582.8,382.0 583.3,381.0 583.8,380.5 584.3,379.4 584.8,378.4 585.3,378.9 585.9,377.9 586.4,376.3 586.9,374.2 587.4,373.2 587.9,373.7 588.5,374.8 589.0,375.3 589.5,375.8 590.0,375.3 590.5,374.8 591.0,374.8 591.6,374.2 592.1,374.2 592.6,374.8 593.1,374.2 593.6,374.8 594.2,375.3 594.7,375.8 595.2,376.3 595.8,377.1 596.6,377.6 597.3,378.2 598.1,379.2 598.9,380.2 599.7,379.7 600.4,379.2 601.0,380.2 601.7,379.2 602.3,380.7 602.8,382.8 603.3,384.9 603.8,383.3 604.3,380.7 604.9,379.2 605.4,378.2 605.9,378.7 606.4,379.7 606.9,380.7 607.4,382.3 608.0,383.9 608.5,385.4 609.0,386.5 609.5,387.0 610.0,387.5 610.6,388.0 611.1,387.5 611.6,388.5 612.1,390.1 612.6,391.6 613.2,393.2 613.7,394.2 614.2,393.2 614.7,392.7 615.2,393.7 615.7,394.2 616.3,393.7 616.8,393.2 617.3,394.2 617.8,395.8 618.3,396.3 618.9,393.2 619.2,390.1 619.6,389.6 619.9,391.1 620.4,392.7 620.9,394.2 621.5,395.3 622.0,396.3 622.5,395.8 623.0,395.3 623.5,395.8 624.0,396.8 624.6,397.3 625.1,397.9 625.6,398.4 626.1,398.9 626.6,398.4 627.2,397.9 627.7,398.9 628.2,399.4 628.7,399.9 629.2,400.5 629.8,401.0 630.3,401.5 630.8,402.0 631.3,402.5 631.8,402.0 632.3,402.5 632.9,402.0 633.4,401.5 633.9,401.0 634.4,401.5 634.9,401.0 635.5,400.5 636.0,399.9 636.5,399.9 637.0,400.5 637.5,401.0 638.0,401.5 638.6,402.0 639.1,402.5 639.6,403.0 640.1,403.6 640.7,404.8 641.3,405.6 641.9,405.2 642.4,406.9 643.0,409.0 643.4,407.7 643.8,414.5 644.1,422.2 644.4,417.1 644.8,410.3 645.1,406.9 645.5,408.6 645.9,412.8 646.4,416.2 646.8,417.9 647.2,416.6 647.6,418.3 648.1,417.5 648.5,414.9 648.9,413.3 649.3,413.7 649.8,415.4 650.2,417.1 650.6,418.3 651.0,417.5 651.5,418.8 651.9,420.5 652.3,421.7 652.7,420.9 653.2,422.6 653.6,423.9 654.0,421.3 654.4,419.2 654.9,419.6 655.3,421.3 655.7,423.9 656.1,425.1 656.6,424.7 657.0,422.2 657.4,420.5 657.8,420.0 658.3,419.6 658.7,420.0 659.1,419.6 659.5,419.2 659.9,420.0 660.4,420.9 660.8,420.5 661.2,421.3 661.6,422.6 662.1,423.4 662.5,422.2 662.9,421.3 663.3,420.9 663.8,420.5 664.2,421.3 664.6,422.2 665.0,423.0 665.5,423.9 665.9,423.0 666.3,424.3 666.7,425.1 667.2,423.4 667.6,422.2 668.0,423.0 668.4,424.3 668.9,424.7 669.3,426.0 669.7,427.3 670.1,428.5 670.6,429.0 671.0,428.1 671.4,427.3 671.8,426.4 672.3,426.8 672.7,428.1 673.1,427.7 673.5,426.8 674.0,426.4 674.4,427.3 674.8,428.1 675.2,429.0 675.7,429.8 676.1,430.2 676.7,430.5 677.3,432.2 677.9,433.9 678.5,435.1 679.2,434.7 679.8,433.9 680.4,432.2 680.9,430.5 681.3,428.8 681.8,428.3 682.1,429.6 682.6,431.3 683.0,433.9 683.5,437.3 683.8,439.8 684.1,436.4 684.5,435.1 684.9,436.0 685.3,436.4 685.8,435.6 686.2,433.9 686.6,433.4 687.0,432.2 687.5,430.9 687.9,430.5 688.3,432.2 688.7,433.9 689.2,435.6 689.6,436.8 690.0,437.3 690.4,436.8 690.9,437.3 691.3,438.1 691.7,439.0 692.1,439.8 692.6,440.7 693.0,441.1 693.4,441.5 693.8,441.5 694.3,441.9 694.7,441.5 695.1,440.7 695.5,439.4 695.9,439.8 696.4,442.4 696.6,443.2 696.9,440.7 697.2,435.6 697.6,432.2 697.9,430.5 698.2,429.6 698.6,428.8 698.9,427.9 699.3,427.1 699.8,426.2 700.2,425.4 700.6,424.5 701.0,424.1 701.5,424.9 701.9,425.8 702.3,425.4 702.7,424.5 703.2,423.3 703.6,422.0 703.8,420.7 704.2,422.0 704.5,424.5 704.9,425.4 705.3,424.5 705.7,423.3"/>
<line x1="715.5" y1="103" x2="715.5" y2="474" stroke="#8a8a8a" stroke-width="1"/>
<line x1="0" y1="473.9" x2="716.0" y2="473.9" stroke="#5e5e5e" stroke-width="1.5"/>
<g stroke="#3c3c3c" stroke-width="1"><line x1="19.5" y1="474" x2="19.5" y2="487"/><line x1="39.5" y1="474" x2="39.5" y2="487"/><line x1="59.5" y1="474" x2="59.5" y2="487"/><line x1="79.5" y1="474" x2="79.5" y2="487"/><line x1="99.5" y1="474" x2="99.5" y2="487"/><line x1="119.5" y1="474" x2="119.5" y2="487"/><line x1="139.5" y1="474" x2="139.5" y2="487"/><line x1="159.5" y1="474" x2="159.5" y2="487"/><line x1="179.5" y1="474" x2="179.5" y2="487"/><line x1="199.5" y1="474" x2="199.5" y2="487"/><line x1="219.5" y1="474" x2="219.5" y2="487"/><line x1="239.5" y1="474" x2="239.5" y2="487"/><line x1="259.5" y1="474" x2="259.5" y2="487"/><line x1="279.5" y1="474" x2="279.5" y2="487"/><line x1="299.5" y1="474" x2="299.5" y2="487"/><line x1="319.5" y1="474" x2="319.5" y2="487"/><line x1="339.5" y1="474" x2="339.5" y2="487"/><line x1="359.5" y1="474" x2="359.5" y2="487"/><line x1="379.5" y1="474" x2="379.5" y2="487"/><line x1="399.5" y1="474" x2="399.5" y2="487"/><line x1="420.5" y1="474" x2="420.5" y2="487"/><line x1="440.5" y1="474" x2="440.5" y2="487"/><line x1="460.5" y1="474" x2="460.5" y2="487"/><line x1="480.5" y1="474" x2="480.5" y2="487"/><line x1="500.5" y1="474" x2="500.5" y2="487"/><line x1="520.5" y1="474" x2="520.5" y2="487"/><line x1="540.5" y1="474" x2="540.5" y2="487"/><line x1="560.5" y1="474" x2="560.5" y2="487"/><line x1="580.5" y1="474" x2="580.5" y2="487"/><line x1="600.5" y1="474" x2="600.5" y2="487"/><line x1="620.5" y1="474" x2="620.5" y2="487"/><line x1="640.5" y1="474" x2="640.5" y2="487"/><line x1="660.5" y1="474" x2="660.5" y2="487"/><line x1="680.5" y1="474" x2="680.5" y2="487"/><line x1="700.5" y1="474" x2="700.5" y2="487"/></g>
<g font-family="Liberation Sans, sans-serif" font-size="6.4" fill="#c4c8d0"><path d="M716.0 438.0 L719.0 440.5 L716.0 443.0Z" fill="#e0e0e0"/><text x="718.8" y="442.8" textLength="10.5" lengthAdjust="spacingAndGlyphs">3.00</text><path d="M716.0 376.0 L719.0 378.5 L716.0 381.0Z" fill="#e0e0e0"/><text x="718.8" y="380.8" textLength="10.5" lengthAdjust="spacingAndGlyphs">4.00</text><path d="M716.0 315.0 L719.0 317.5 L716.0 320.0Z" fill="#e0e0e0"/><text x="718.8" y="319.8" textLength="10.5" lengthAdjust="spacingAndGlyphs">5.00</text><path d="M716.0 253.5 L719.0 256.0 L716.0 258.5Z" fill="#e0e0e0"/><text x="718.8" y="258.3" textLength="10.5" lengthAdjust="spacingAndGlyphs">6.00</text><path d="M716.0 192.0 L719.0 194.5 L716.0 197.0Z" fill="#e0e0e0"/><text x="718.8" y="196.8" textLength="10.5" lengthAdjust="spacingAndGlyphs">7.00</text><path d="M716.0 131.0 L719.0 133.5 L716.0 136.0Z" fill="#e0e0e0"/><text x="718.8" y="135.8" textLength="10.5" lengthAdjust="spacingAndGlyphs">8.00</text><line x1="715.5" y1="410.5" x2="717.5" y2="410.5" stroke="#aaa"/><line x1="715.5" y1="348.5" x2="717.5" y2="348.5" stroke="#aaa"/><line x1="715.5" y1="287.5" x2="717.5" y2="287.5" stroke="#aaa"/><line x1="715.5" y1="226.5" x2="717.5" y2="226.5" stroke="#aaa"/><line x1="715.5" y1="165.5" x2="717.5" y2="165.5" stroke="#aaa"/></g>
<g font-family="Liberation Sans, sans-serif" font-size="5.8" fill="#c8c8c8"><text x="4.1" y="485.7" textLength="10.6" lengthAdjust="spacingAndGlyphs">1988</text><text x="24.1" y="485.7" textLength="10.6" lengthAdjust="spacingAndGlyphs">1989</text><text x="44.1" y="485.7" textLength="10.6" lengthAdjust="spacingAndGlyphs">1990</text><text x="64.2" y="485.7" textLength="10.6" lengthAdjust="spacingAndGlyphs">1991</text><text x="84.2" y="485.7" textLength="10.6" lengthAdjust="spacingAndGlyphs">1992</text><text x="104.2" y="485.7" textLength="10.6" lengthAdjust="spacingAndGlyphs">1993</text><text x="124.3" y="485.7" textLength="10.6" lengthAdjust="spacingAndGlyphs">1994</text><text x="144.3" y="485.7" textLength="10.6" lengthAdjust="spacingAndGlyphs">1995</text><text x="164.3" y="485.7" textLength="10.6" lengthAdjust="spacingAndGlyphs">1996</text><text x="184.4" y="485.7" textLength="10.6" lengthAdjust="spacingAndGlyphs">1997</text><text x="204.4" y="485.7" textLength="10.6" lengthAdjust="spacingAndGlyphs">1998</text><text x="224.4" y="485.7" textLength="10.6" lengthAdjust="spacingAndGlyphs">1999</text><text x="244.4" y="485.7" textLength="10.6" lengthAdjust="spacingAndGlyphs">2000</text><text x="264.5" y="485.7" textLength="10.6" lengthAdjust="spacingAndGlyphs">2001</text><text x="284.5" y="485.7" textLength="10.6" lengthAdjust="spacingAndGlyphs">2002</text><text x="304.5" y="485.7" textLength="10.6" lengthAdjust="spacingAndGlyphs">2003</text><text x="324.6" y="485.7" textLength="10.6" lengthAdjust="spacingAndGlyphs">2004</text><text x="344.6" y="485.7" textLength="10.6" lengthAdjust="spacingAndGlyphs">2005</text><text x="364.6" y="485.7" textLength="10.6" lengthAdjust="spacingAndGlyphs">2006</text><text x="384.7" y="485.7" textLength="10.6" lengthAdjust="spacingAndGlyphs">2007</text><text x="404.7" y="485.7" textLength="10.6" lengthAdjust="spacingAndGlyphs">2008</text><text x="424.7" y="485.7" textLength="10.6" lengthAdjust="spacingAndGlyphs">2009</text><text x="444.7" y="485.7" textLength="10.6" lengthAdjust="spacingAndGlyphs">2010</text><text x="464.8" y="485.7" textLength="10.6" lengthAdjust="spacingAndGlyphs">2011</text><text x="484.8" y="485.7" textLength="10.6" lengthAdjust="spacingAndGlyphs">2012</text><text x="504.8" y="485.7" textLength="10.6" lengthAdjust="spacingAndGlyphs">2013</text><text x="524.9" y="485.7" textLength="10.6" lengthAdjust="spacingAndGlyphs">2014</text><text x="544.9" y="485.7" textLength="10.6" lengthAdjust="spacingAndGlyphs">2015</text><text x="564.9" y="485.7" textLength="10.6" lengthAdjust="spacingAndGlyphs">2016</text><text x="585.0" y="485.7" textLength="10.6" lengthAdjust="spacingAndGlyphs">2017</text><text x="605.0" y="485.7" textLength="10.6" lengthAdjust="spacingAndGlyphs">2018</text><text x="625.0" y="485.7" textLength="10.6" lengthAdjust="spacingAndGlyphs">2019</text><text x="645.0" y="485.7" textLength="10.6" lengthAdjust="spacingAndGlyphs">2020</text><text x="665.1" y="485.7" textLength="10.6" lengthAdjust="spacingAndGlyphs">2021</text><text x="685.1" y="485.7" textLength="10.6" lengthAdjust="spacingAndGlyphs">2022</text><text x="705.1" y="485.7" textLength="10.6" lengthAdjust="spacingAndGlyphs">2023</text></g>
<path d="M718 417.8 H735 V419.6 H718Z" fill="#ff1f5a"/>
<path d="M716.5 421 L718 419 L719 419.6 Z" fill="#a01070"/>
<path d="M716.3 423.2 L719 419.8 H735 V426.4 H719 Z" fill="#ffffff"/>
<text x="720.3" y="425.5" font-family="Liberation Sans, sans-serif" font-size="6" fill="#303048" textLength="13.6" lengthAdjust="spacingAndGlyphs">3.2781</text>
<path d="M716.3 429.9 L719 426.9 H735 V433 H719 Z" fill="#10e010"/>
<text x="720.3" y="432.2" font-family="Liberation Sans, sans-serif" font-size="6" fill="#063006" textLength="13.6" lengthAdjust="spacingAndGlyphs">3.1732</text>
<polyline fill="none" stroke="#f0f0f0" stroke-width="1.2" points="182.2,19.0 183.6,18.6 185.0,18.1 186.5,17.6 188.4,17.6 189.3,17.9 190.3,18.6 191.0,19.5 191.4,16.2 191.7,12.4 192.2,14.3 192.9,13.8 193.6,13.3 194.6,12.8 195.5,12.4 196.5,12.4 197.4,12.8 198.1,13.3 198.6,14.3 199.1,15.7 199.6,14.3 200.3,14.3 201.2,14.7 202.2,15.2 203.1,15.2 204.1,15.7 205.0,16.2 205.7,15.2 206.4,13.8"/>
<polyline fill="none" stroke="#22dd22" stroke-width="1.2" points="211.2,13.3 212.2,11.9 213.6,10.5 215.0,10.3 216.4,10.5 217.4,10.9 218.3,10.5 219.3,10.9 220.2,10.0 220.7,7.6 221.5,7.1 222.1,9.5 223.1,10.0 224.0,10.0 225.0,10.5 226.0,10.0 226.9,9.5 227.9,10.9 228.8,10.5 229.8,9.5 230.7,9.0 231.7,9.0 232.6,7.1 233.6,5.7 234.5,6.2 235.5,7.6 236.4,9.0"/>
</svg>
</body></html>
